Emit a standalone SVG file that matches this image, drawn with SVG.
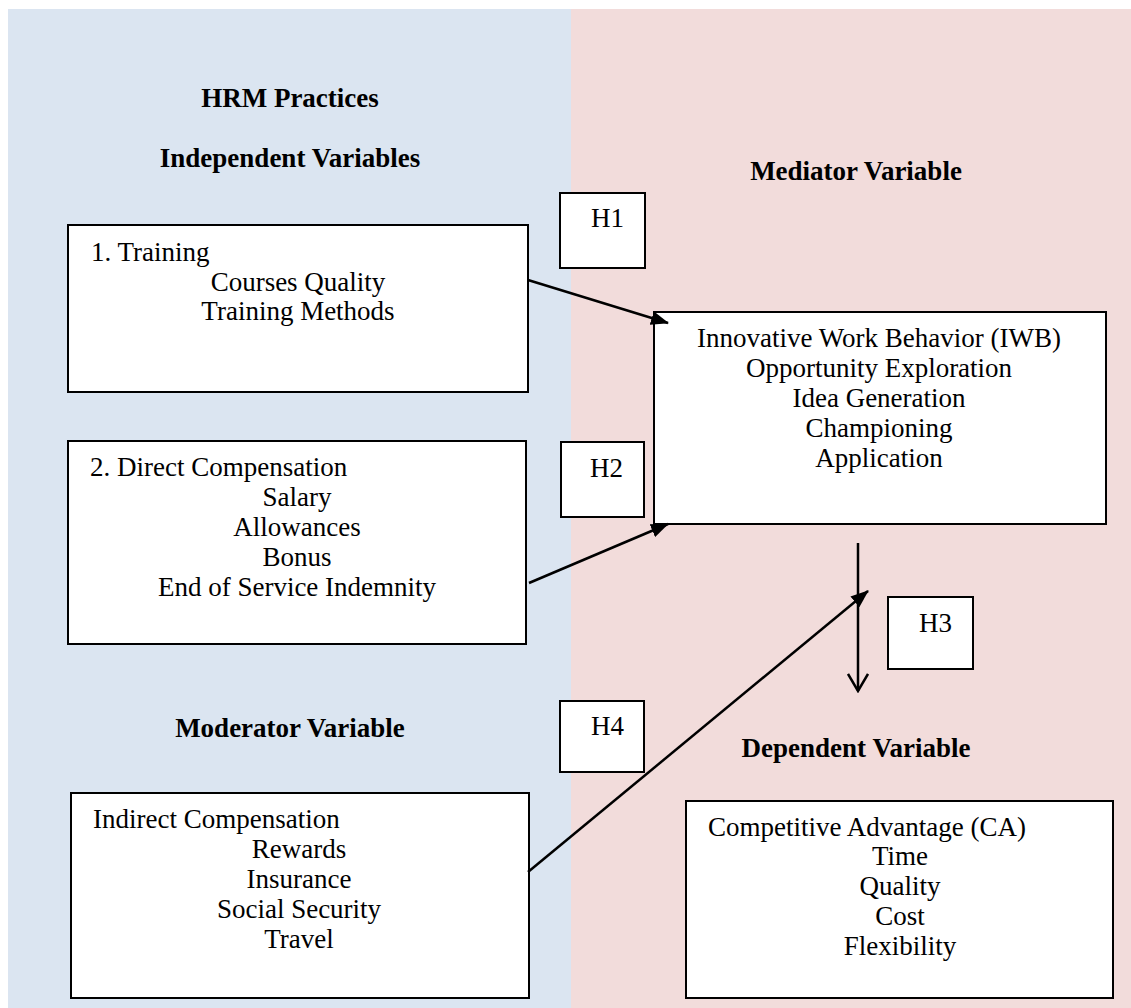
<svg xmlns="http://www.w3.org/2000/svg" width="1131" height="1008" viewBox="0 0 1131 1008">
<style>
text{font-family:"Liberation Serif","Times New Roman",serif;font-size:27px;fill:#000}
.h{font-weight:bold}
.c{text-anchor:middle}
.box{fill:#fff;stroke:#000;stroke-width:2}
.conn{stroke:#000;stroke-width:2.5;fill:none}
</style>
<defs>
<marker id="tri" markerUnits="userSpaceOnUse" markerWidth="18" markerHeight="14" viewBox="0 0 18 14" refX="17" refY="7" orient="auto">
<path d="M0,0 L18,7 L0,14 Z" fill="#000"/>
</marker>
<marker id="open" markerUnits="userSpaceOnUse" markerWidth="22" markerHeight="24" viewBox="0 0 22 24" refX="11" refY="22" orient="0">
<path d="M1,5 L11,22 L21,5" fill="none" stroke="#000" stroke-width="2.5"/>
</marker>
</defs>
<rect x="8" y="9" width="563" height="999" fill="#DBE5F1"/>
<rect x="571" y="9" width="560" height="999" fill="#F2DCDB"/>
<g id="headers">
<text class="h c" x="290" y="107">HRM Practices</text>
<text class="h c" x="290" y="167">Independent Variables</text>
<text class="h c" x="856" y="180">Mediator Variable</text>
<text class="h c" x="290" y="737">Moderator Variable</text>
<text class="h c" x="856" y="757">Dependent Variable</text>
</g>
<g id="training">
<rect class="box" x="68" y="225" width="460" height="167"/>
<text x="91" y="261">1. Training</text>
<text class="c" x="298" y="291">Courses Quality</text>
<text class="c" x="298" y="320">Training Methods</text>
</g>
<g id="direct">
<rect class="box" x="68" y="441" width="458" height="203"/>
<text x="90" y="476">2. Direct Compensation</text>
<text class="c" x="297" y="506">Salary</text>
<text class="c" x="297" y="536">Allowances</text>
<text class="c" x="297" y="566">Bonus</text>
<text class="c" x="297" y="596">End of Service Indemnity</text>
</g>
<g id="indirect">
<rect class="box" x="71" y="793" width="458" height="205"/>
<text x="93" y="828">Indirect Compensation</text>
<text class="c" x="299" y="858">Rewards</text>
<text class="c" x="299" y="888">Insurance</text>
<text class="c" x="299" y="918">Social Security</text>
<text class="c" x="299" y="948">Travel</text>
</g>
<g id="iwb">
<rect class="box" x="654" y="312" width="452" height="212"/>
<text class="c" x="879" y="347">Innovative Work Behavior (IWB)</text>
<text class="c" x="879" y="377">Opportunity Exploration</text>
<text class="c" x="879" y="407">Idea Generation</text>
<text class="c" x="879" y="437">Championing</text>
<text class="c" x="879" y="467">Application</text>
</g>
<g id="ca">
<rect class="box" x="686" y="801" width="427" height="197"/>
<text x="708" y="836">Competitive Advantage (CA)</text>
<text class="c" x="900" y="865">Time</text>
<text class="c" x="900" y="895">Quality</text>
<text class="c" x="900" y="925">Cost</text>
<text class="c" x="900" y="955">Flexibility</text>
</g>
<g id="h1">
<rect class="box" x="560" y="193" width="85" height="75"/>
<text x="591" y="227">H1</text>
</g>
<g id="h2">
<rect class="box" x="561" y="442" width="83" height="75"/>
<text x="590" y="477">H2</text>
</g>
<g id="h3">
<rect class="box" x="888" y="597" width="85" height="72"/>
<text x="919" y="632">H3</text>
</g>
<g id="h4">
<rect class="box" x="560" y="701" width="84" height="71"/>
<text x="591" y="735">H4</text>
</g>
<g id="connectors">
<line class="conn" x1="528" y1="280" x2="668" y2="323" marker-end="url(#tri)"/>
<line class="conn" x1="529" y1="583" x2="668" y2="524" marker-end="url(#tri)"/>
<line class="conn" x1="858" y1="543" x2="858" y2="691" marker-end="url(#open)"/>
<line class="conn" x1="528" y1="872" x2="868" y2="591" marker-end="url(#tri)"/>
</g>
</svg>
